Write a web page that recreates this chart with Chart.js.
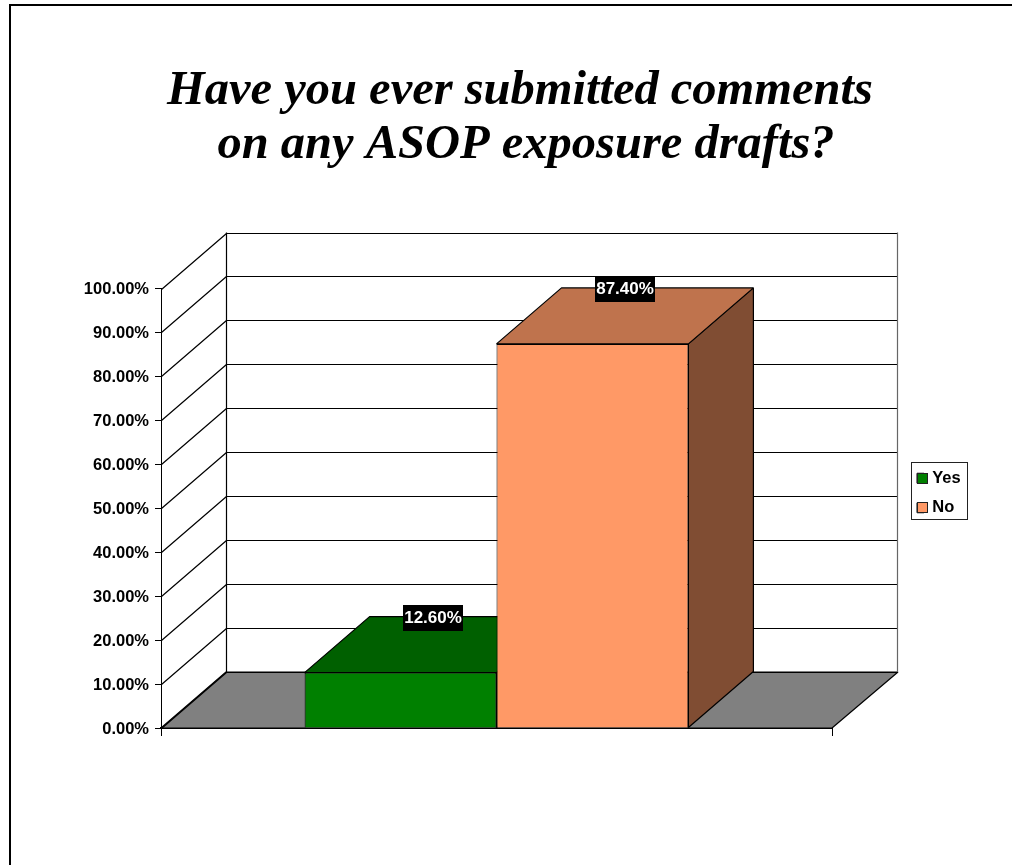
<!DOCTYPE html>
<html>
<head>
<meta charset="utf-8">
<style>
  html, body { margin: 0; padding: 0; background: #fff; }
  canvas { display: block; }
</style>
<script src="https://cdn.jsdelivr.net/npm/chart.js@4/dist/chart.umd.min.js"></script>
</head>
<body>
<canvas id="surveyChart" width="1012" height="865"></canvas>
<script>
const titleLines = ['Have you ever submitted comments', ' on any ASOP exposure drafts?'];
const categories = [''];
const yesValues = [12.6];
const noValues = [87.4];
const seriesNames = ['Yes', 'No'];
const frontColors = ['#008000', '#FF9966'];
const topColors = ['#006000', '#BF734D'];
const sideColors = ['#004000', '#804D33'];

// offset of the back wall from the front plane
const depthX = 65;
const depthY = 56;
const sansFont = '"Liberation Sans", Arial, sans-serif';

function strokePoly(ctx, points, fill) {
  ctx.beginPath();
  points.forEach((p, i) => (i === 0 ? ctx.moveTo(p[0], p[1]) : ctx.lineTo(p[0], p[1])));
  ctx.closePath();
  if (fill) {
    ctx.fillStyle = fill;
    ctx.fill();
  }
  ctx.stroke();
}

const pagePlugin = {
  id: 'page',
  afterLayout(chart) {
    chart.titleBlock.left += 104;
    chart.titleBlock.right += 104;
    const legend = chart.legend;
    legend.left = 904;
    legend.right = 967;
    legend.top = 457;
    legend.bottom = 560;
  },
  beforeDraw(chart) {
    const { ctx } = chart;
    ctx.save();
    ctx.fillStyle = '#fff';
    ctx.fillRect(0, 0, chart.width, chart.height);
    ctx.fillStyle = '#000';
    ctx.fillRect(9, 4, chart.width - 9, 2);
    ctx.fillRect(9, 4, 2, chart.height - 4);
    ctx.fillStyle = '#fff';
    ctx.strokeStyle = '#222';
    ctx.lineWidth = 1;
    ctx.fillRect(911.5, 462.5, 56, 57);
    ctx.strokeRect(911.5, 462.5, 56, 57);
    ctx.restore();
  },
  beforeDatasetsDraw(chart) {
    const { ctx, scales: { x, y } } = chart;
    const bottom = y.getPixelForValue(0);
    const top = y.getPixelForValue(100);
    ctx.save();
    ctx.strokeStyle = '#000';
    ctx.lineWidth = 1.2;
    ctx.lineJoin = 'bevel';

    // floor
    strokePoly(ctx, [
      [x.left, bottom],
      [x.right, bottom],
      [x.right + depthX + 1, bottom - depthY],
      [x.left + depthX, bottom - depthY],
    ], '#808080');

    // walls and their grid lines
    y.ticks.forEach((tick) => {
      const py = Math.round(y.getPixelForValue(tick.value)) + 0.5;
      ctx.beginPath();
      ctx.moveTo(x.left + 0.5, py);
      ctx.lineTo(x.left + depthX + 0.5, py - depthY);
      ctx.lineTo(x.right + depthX + 1, py - depthY);
      ctx.stroke();
    });
    ctx.beginPath();
    ctx.moveTo(x.left + depthX + 0.5, top - depthY);
    ctx.lineTo(x.left + depthX + 0.5, bottom - depthY);
    ctx.stroke();
    ctx.strokeStyle = '#666';
    ctx.beginPath();
    ctx.moveTo(x.right + depthX + 0.5, top - depthY);
    ctx.lineTo(x.right + depthX + 0.5, bottom - depthY);
    ctx.stroke();

    // top and side of each bar, fronts come from the library
    ctx.strokeStyle = '#000';
    chart.data.datasets.forEach((dataset, i) => {
      const bar = chart.getDatasetMeta(i).data[0];
      const left = bar.x - bar.width / 2;
      const right = bar.x + bar.width / 2;
      strokePoly(ctx, [
        [right, bar.y],
        [right + depthX, bar.y - depthY],
        [right + depthX, bar.base - depthY],
        [right, bar.base],
      ], sideColors[i]);
      strokePoly(ctx, [
        [left, bar.y],
        [left + depthX, bar.y - depthY],
        [right + depthX, bar.y - depthY],
        [right, bar.y],
      ], topColors[i]);
    });
    ctx.restore();
  },
  afterDatasetsDraw(chart) {
    const { ctx } = chart;
    ctx.save();
    ctx.font = `bold 17px ${sansFont}`;
    ctx.textAlign = 'center';
    ctx.textBaseline = 'middle';
    chart.data.datasets.forEach((dataset, i) => {
      const bar = chart.getDatasetMeta(i).data[0];
      const cx = Math.round(bar.x + depthX / 2);
      const cy = Math.round(bar.y - depthY) + 1;
      ctx.fillStyle = '#000';
      ctx.fillRect(cx - 30, cy - 13, 60, 26);
      ctx.fillStyle = '#fff';
      ctx.fillText(`${dataset.data[0].toFixed(2)}%`, cx, cy);
    });
    ctx.restore();
  },
  afterDraw(chart) {
    // legend swatches are wider than the text gap the library allows
    const { ctx } = chart;
    ctx.save();
    ctx.strokeStyle = '#222';
    ctx.lineWidth = 1;
    chart.legend.legendItems.forEach((item, i) => {
      const top = 473.5 + i * 29;
      ctx.fillStyle = item.fillStyle;
      ctx.fillRect(917.5, top, 10, 10);
      ctx.strokeRect(917.5, top, 10, 10);
    });
    ctx.restore();
  },
};

const ctx = document.getElementById('surveyChart');
const surveyChart = new Chart(ctx, {
  type: 'bar',
  plugins: [pagePlugin],
  data: {
    labels: categories,
    datasets: [
      {
        label: seriesNames[0],
        data: yesValues,
        backgroundColor: frontColors[0],
        borderColor: '#000',
        borderWidth: 1,
      },
      {
        label: seriesNames[1],
        data: noValues,
        backgroundColor: frontColors[1],
        borderColor: '#000',
        borderWidth: 1,
      },
    ],
  },
  options: {
    responsive: false,
    animation: false,
    categoryPercentage: 0.572,
    barPercentage: 1,
    layout: {
      padding: { left: 0, right: 180, top: 0, bottom: 129 },
    },
    plugins: {
      tooltip: { enabled: false },
      title: {
        display: true,
        text: titleLines,
        color: '#000',
        padding: { top: 64, bottom: 116.5 },
        font: {
          family: '"Liberation Serif", "Times New Roman", serif',
          size: 48.5,
          weight: 'bold',
          style: 'italic',
          lineHeight: 54 / 48.5,
        },
      },
      legend: {
        position: 'chartArea',
        align: 'start',
        labels: {
          color: '#000',
          boxWidth: 7,
          boxHeight: 10,
          padding: 13,
          font: { family: sansFont, size: 16.5, weight: 'bold' },
        },
      },
    },
    scales: {
      x: {
        afterFit(scale) {
          scale.height = 8;
        },
        ticks: { display: false },
        border: { color: '#000', width: 2 },
        grid: { color: '#000', drawOnChartArea: false, tickLength: 8 },
      },
      y: {
        min: 0,
        max: 100,
        afterFit(scale) {
          scale.width = 161;
        },
        ticks: {
          stepSize: 10,
          color: '#000',
          padding: 6,
          labelOffset: 1,
          font: { family: sansFont, size: 16.5, weight: 'bold' },
          callback: value => `${value.toFixed(2)}%`,
        },
        border: { color: '#000', width: 1 },
        grid: { color: '#000', drawOnChartArea: false, tickLength: 6 },
      },
    },
  },
});
</script>
</body>
</html>
